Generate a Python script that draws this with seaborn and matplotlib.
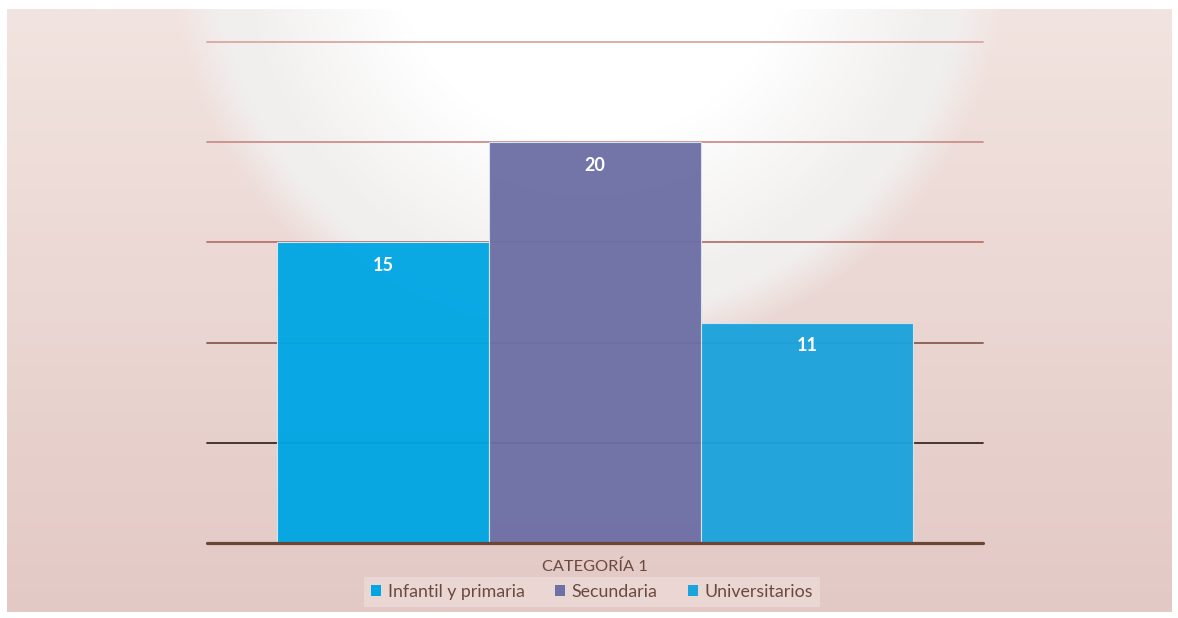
import numpy as np
import pandas as pd
import matplotlib
matplotlib.use("Agg")
import matplotlib.pyplot as plt
from matplotlib.patches import Patch
import seaborn as sns

categorias = ["CATEGORÍA 1"]
series = ["Infantil y primaria", "Secundaria", "Universitarios"]
valores = [15, 20, 11]
colores = ["#00A6E4", "#6D6FA5", "#1BA3DC"]
yticks = [0, 5, 10, 15, 20, 25]
grid_colors = ["#6A4636", "#3A2A26", "#8A5A50", "#B7746F", "#CB8F8B", "#DBA6A3"]

df = pd.DataFrame({"categoria": categorias * len(series), "serie": series, "valor": valores})

sns.set_theme(style="white")
plt.rcParams["font.family"] = ["Lato", "DejaVu Sans"]

W, H = 1178, 618
fig = plt.figure(figsize=(W / 100, H / 100), dpi=100, facecolor="white")

# background gradient panel
bx0, by0, bx1, by1 = 7, 9, 1172, 612
bg = fig.add_axes([bx0 / W, 1 - by1 / H, (bx1 - bx0) / W, (by1 - by0) / H])
ny, nx = 300, 600
yy, xx = np.mgrid[0:ny, 0:nx]
px = bx0 + xx / (nx - 1) * (bx1 - bx0)
py = by0 + yy / (ny - 1) * (by1 - by0)
top = np.array([0xF2, 0xE4, 0xE0]) / 255
bot = np.array([0xE3, 0xC9, 0xC5]) / 255
t = ((py - by0) / (by1 - by0))[..., None]
base = top * (1 - t) + bot * t
d = np.sqrt((px - 590) ** 2 + (py + 58) ** 2)
gray = np.array([0xF1, 0xEF, 0xEE]) / 255
wc = np.clip((350 - d) / 150, 0, 1)[..., None]
inner = gray * (1 - wc) + np.array([1.0, 1.0, 1.0]) * wc
w = np.clip((420 - d) / 45, 0, 1)[..., None]
img = base * (1 - w) + inner * w
bg.imshow(img, aspect="auto", extent=[0, 1, 0, 1], origin="upper")
bg.set_axis_off()

ax = fig.add_axes([207 / W, 1 - 543 / H, 776 / W, 501 / H])
ax.set_facecolor("none")
for yv, c in zip(yticks, grid_colors):
    ax.axhline(yv, color=c, lw=2.3 if yv == 0 else 1.3, zorder=1 if yv else 3,
               clip_on=False)

sns.barplot(data=df, x="categoria", y="valor", hue="serie", palette=colores,
            saturation=1, width=0.82, gap=0, alpha=0.96, edgecolor="#D5E6F2",
            linewidth=0.8, ax=ax, legend=False, zorder=2)

for cont in ax.containers:
    for bar in cont:
        h = bar.get_height()
        ax.annotate(f"{h:.0f}", (bar.get_x() + bar.get_width() / 2, h),
                    xytext=(0, -16.5), textcoords="offset points",
                    ha="center", va="center", color="white",
                    fontsize=13, fontweight="bold")

ax.set_ylim(0, 25)
ax.set_xlim(-0.5, 0.5)
ax.set_yticks([])
ax.set_xlabel("")
ax.set_ylabel("")
ax.tick_params(axis="x", length=0, pad=12, labelsize=11.8, labelcolor="#6B4A3E")
for s in ax.spines.values():
    s.set_visible(False)

handles = [Patch(facecolor=c, edgecolor="none", label=s) for s, c in zip(series, colores)]
leg = fig.legend(handles=handles, loc="center", bbox_to_anchor=(592 / W, 1 - 592 / H),
                 ncol=3, frameon=True, fontsize=12.8, handlelength=0.6, handleheight=0.6,
                 handletextpad=0.35, columnspacing=1.7, borderpad=0.4, fancybox=False)
leg.get_frame().set_facecolor("white")
leg.get_frame().set_alpha(0.25)
leg.get_frame().set_edgecolor("none")
for txt in leg.get_texts():
    txt.set_color("#6B4A3E")

fig.savefig("out.png", dpi=100, facecolor="white")
